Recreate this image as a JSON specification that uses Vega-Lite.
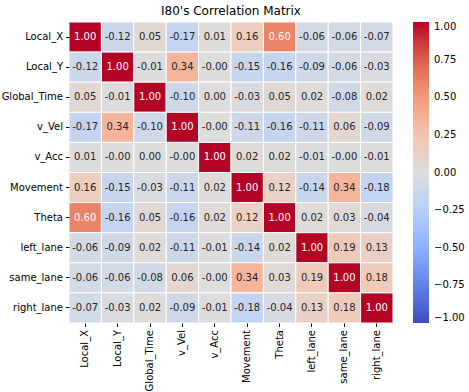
{
  "$schema": "https://vega.github.io/schema/vega-lite/v6.json",
  "autosize": "none",
  "width": 324,
  "height": 301,
  "padding": {"left": 69, "top": 22, "right": 76, "bottom": 69},
  "background": "white",
  "title": {"text": "I80's Correlation Matrix", "fontSize": 12, "font": "DejaVu Sans", "fontWeight": "normal", "color": "black", "offset": 4},
  "config": {"view": {"stroke": null}, "font": "DejaVu Sans"},
  "data": {"values": [
    {"r":"Local_X","c":"Local_X","v":1.00},{"r":"Local_X","c":"Local_Y","v":-0.12},{"r":"Local_X","c":"Global_Time","v":0.05},{"r":"Local_X","c":"v_Vel","v":-0.17},{"r":"Local_X","c":"v_Acc","v":0.01},{"r":"Local_X","c":"Movement","v":0.16},{"r":"Local_X","c":"Theta","v":0.60},{"r":"Local_X","c":"left_lane","v":-0.06},{"r":"Local_X","c":"same_lane","v":-0.06},{"r":"Local_X","c":"right_lane","v":-0.07},
    {"r":"Local_Y","c":"Local_X","v":-0.12},{"r":"Local_Y","c":"Local_Y","v":1.00},{"r":"Local_Y","c":"Global_Time","v":-0.01},{"r":"Local_Y","c":"v_Vel","v":0.34},{"r":"Local_Y","c":"v_Acc","v":-0.001},{"r":"Local_Y","c":"Movement","v":-0.15},{"r":"Local_Y","c":"Theta","v":-0.16},{"r":"Local_Y","c":"left_lane","v":-0.09},{"r":"Local_Y","c":"same_lane","v":-0.06},{"r":"Local_Y","c":"right_lane","v":-0.03},
    {"r":"Global_Time","c":"Local_X","v":0.05},{"r":"Global_Time","c":"Local_Y","v":-0.01},{"r":"Global_Time","c":"Global_Time","v":1.00},{"r":"Global_Time","c":"v_Vel","v":-0.10},{"r":"Global_Time","c":"v_Acc","v":0.00},{"r":"Global_Time","c":"Movement","v":-0.03},{"r":"Global_Time","c":"Theta","v":0.05},{"r":"Global_Time","c":"left_lane","v":0.02},{"r":"Global_Time","c":"same_lane","v":-0.08},{"r":"Global_Time","c":"right_lane","v":0.02},
    {"r":"v_Vel","c":"Local_X","v":-0.17},{"r":"v_Vel","c":"Local_Y","v":0.34},{"r":"v_Vel","c":"Global_Time","v":-0.10},{"r":"v_Vel","c":"v_Vel","v":1.00},{"r":"v_Vel","c":"v_Acc","v":-0.001},{"r":"v_Vel","c":"Movement","v":-0.11},{"r":"v_Vel","c":"Theta","v":-0.16},{"r":"v_Vel","c":"left_lane","v":-0.11},{"r":"v_Vel","c":"same_lane","v":0.06},{"r":"v_Vel","c":"right_lane","v":-0.09},
    {"r":"v_Acc","c":"Local_X","v":0.01},{"r":"v_Acc","c":"Local_Y","v":-0.001},{"r":"v_Acc","c":"Global_Time","v":0.00},{"r":"v_Acc","c":"v_Vel","v":-0.001},{"r":"v_Acc","c":"v_Acc","v":1.00},{"r":"v_Acc","c":"Movement","v":0.02},{"r":"v_Acc","c":"Theta","v":0.02},{"r":"v_Acc","c":"left_lane","v":-0.01},{"r":"v_Acc","c":"same_lane","v":-0.001},{"r":"v_Acc","c":"right_lane","v":-0.01},
    {"r":"Movement","c":"Local_X","v":0.16},{"r":"Movement","c":"Local_Y","v":-0.15},{"r":"Movement","c":"Global_Time","v":-0.03},{"r":"Movement","c":"v_Vel","v":-0.11},{"r":"Movement","c":"v_Acc","v":0.02},{"r":"Movement","c":"Movement","v":1.00},{"r":"Movement","c":"Theta","v":0.12},{"r":"Movement","c":"left_lane","v":-0.14},{"r":"Movement","c":"same_lane","v":0.34},{"r":"Movement","c":"right_lane","v":-0.18},
    {"r":"Theta","c":"Local_X","v":0.60},{"r":"Theta","c":"Local_Y","v":-0.16},{"r":"Theta","c":"Global_Time","v":0.05},{"r":"Theta","c":"v_Vel","v":-0.16},{"r":"Theta","c":"v_Acc","v":0.02},{"r":"Theta","c":"Movement","v":0.12},{"r":"Theta","c":"Theta","v":1.00},{"r":"Theta","c":"left_lane","v":0.02},{"r":"Theta","c":"same_lane","v":0.03},{"r":"Theta","c":"right_lane","v":-0.04},
    {"r":"left_lane","c":"Local_X","v":-0.06},{"r":"left_lane","c":"Local_Y","v":-0.09},{"r":"left_lane","c":"Global_Time","v":0.02},{"r":"left_lane","c":"v_Vel","v":-0.11},{"r":"left_lane","c":"v_Acc","v":-0.01},{"r":"left_lane","c":"Movement","v":-0.14},{"r":"left_lane","c":"Theta","v":0.02},{"r":"left_lane","c":"left_lane","v":1.00},{"r":"left_lane","c":"same_lane","v":0.19},{"r":"left_lane","c":"right_lane","v":0.13},
    {"r":"same_lane","c":"Local_X","v":-0.06},{"r":"same_lane","c":"Local_Y","v":-0.06},{"r":"same_lane","c":"Global_Time","v":-0.08},{"r":"same_lane","c":"v_Vel","v":0.06},{"r":"same_lane","c":"v_Acc","v":-0.001},{"r":"same_lane","c":"Movement","v":0.34},{"r":"same_lane","c":"Theta","v":0.03},{"r":"same_lane","c":"left_lane","v":0.19},{"r":"same_lane","c":"same_lane","v":1.00},{"r":"same_lane","c":"right_lane","v":0.18},
    {"r":"right_lane","c":"Local_X","v":-0.07},{"r":"right_lane","c":"Local_Y","v":-0.03},{"r":"right_lane","c":"Global_Time","v":0.02},{"r":"right_lane","c":"v_Vel","v":-0.09},{"r":"right_lane","c":"v_Acc","v":-0.01},{"r":"right_lane","c":"Movement","v":-0.18},{"r":"right_lane","c":"Theta","v":-0.04},{"r":"right_lane","c":"left_lane","v":0.13},{"r":"right_lane","c":"same_lane","v":0.18},{"r":"right_lane","c":"right_lane","v":1.00}
  ]},
  "transform": [
    {"calculate": "(datum.v < 0 ? '-' : '') + format(abs(datum.v), '.2f')", "as": "label"}
  ],
  "encoding": {
    "x": {"field": "c", "type": "nominal", "sort": ["Local_X","Local_Y","Global_Time","v_Vel","v_Acc","Movement","Theta","left_lane","same_lane","right_lane"],
      "axis": {"title": null, "labelAngle": 270, "labelFontSize": 10, "labelColor": "black", "domain": false, "tickColor": "black", "tickSize": 3.5, "labelPadding": 3, "labelFont": "DejaVu Sans"}},
    "y": {"field": "r", "type": "nominal", "sort": ["Local_X","Local_Y","Global_Time","v_Vel","v_Acc","Movement","Theta","left_lane","same_lane","right_lane"],
      "axis": {"title": null, "labelFontSize": 10, "labelColor": "black", "domain": false, "tickColor": "black", "tickSize": 3.5, "labelPadding": 3, "labelFont": "DejaVu Sans"}}
  },
  "layer": [
    {
      "mark": {"type": "rect", "stroke": "white", "strokeWidth": 1},
      "encoding": {
        "color": {"field": "v", "type": "quantitative",
          "scale": {"domain": [-1,-0.75,-0.5,-0.25,0,0.25,0.5,0.75,1], "range": ["#3b4cc0","#6282ea","#8db0fe","#b8d0f9","#dddddd","#f5c4ad","#f49a7b","#de604d","#b40426"], "interpolate": "rgb"},
          "legend": {"title": null, "values": [-1,-0.75,-0.5,-0.25,0,0.25,0.5,0.75,1], "format": ".2f", "gradientLength": 301, "gradientThickness": 16, "labelFontSize": 10, "labelColor": "black", "offset": 20, "labelFont": "DejaVu Sans", "gradientStrokeWidth": 0, "direction": "vertical", "labelOffset": 5}}
      }
    },
    {
      "mark": {"type": "text", "fontSize": 10, "font": "DejaVu Sans"},
      "encoding": {
        "text": {"field": "label"},
        "color": {"condition": {"test": "datum.v > 0.5", "value": "white"}, "value": "#262626"}
      }
    }
  ]
}
